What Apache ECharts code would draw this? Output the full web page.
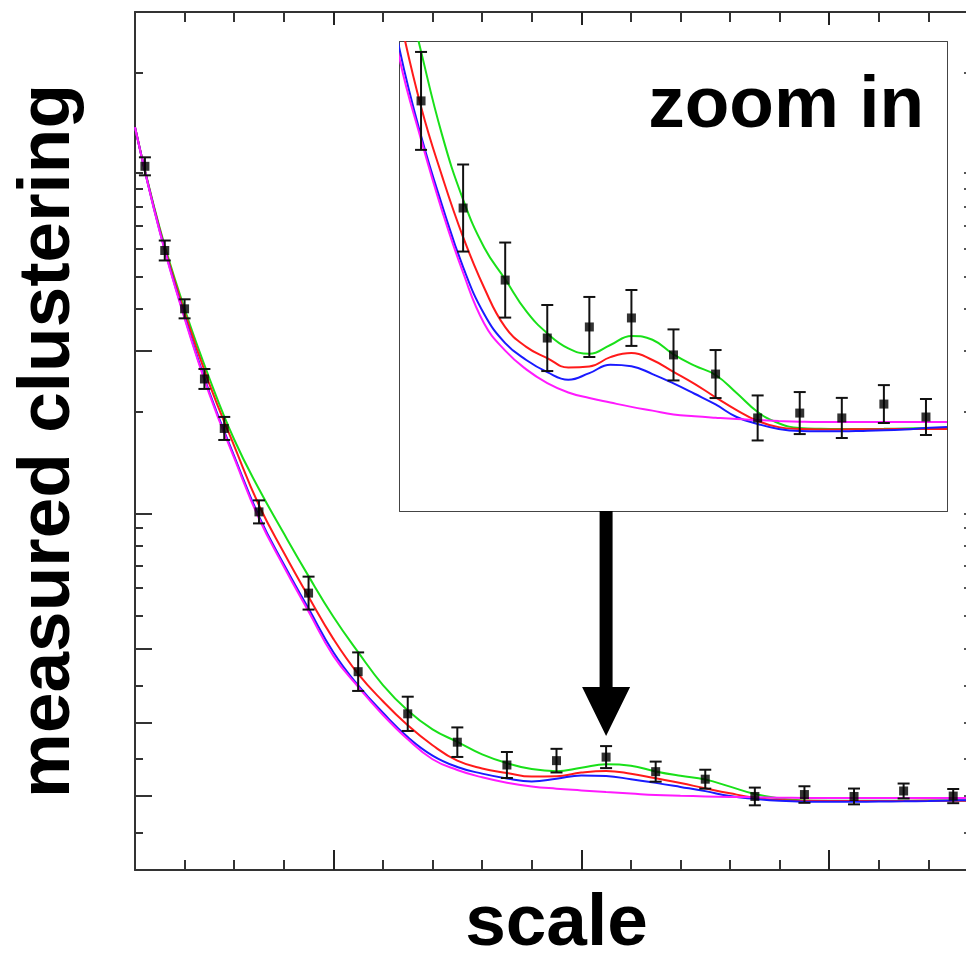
<!DOCTYPE html>
<html><head><meta charset="utf-8">
<script src="https://cdn.jsdelivr.net/npm/echarts@6/dist/echarts.min.js"></script>
<style>html,body{margin:0;padding:0;background:#fff}#c{width:966px;height:956px}</style>
</head><body><div id="c"></div>
<script>
// ---- data (scale units, clustering units) ----
const pointX   = [0.2,0.6,1.0,1.4,1.8,2.5,3.5,4.5,5.5,6.5,7.5,8.5,9.5,10.5,11.5,12.5,13.5,14.5,15.5,16.5];
const pointY   = [95.3,83.9,76.0,66.5,59.8,48.5,37.5,26.86,21.15,17.31,14.22,14.81,15.29,13.32,12.30,9.96,10.22,9.96,10.70,10.01];
const pointErr = [1.22,1.35,1.29,1.35,1.56,1.56,2.23,2.61,2.32,2.0,1.76,1.60,1.49,1.36,1.28,1.20,1.12,1.07,1.01,0.96];

// model curves sampled every 0.5 scale units from 0 to 17
const curveX   = [0,0.5,1,1.5,2,2.5,3,3.5,4,4.5,5,5.5,6,6.5,7,7.5,8,8.5,9,9.5,10,10.5,11,11.5,12,12.5,13,13.5,14,14.5,15,15.5,16,16.5,17];
const greenY   = [100.6,86.9,76.0,66.6,58.3,51.6,45.6,39.8,34.3,29.5,25.05,21.6,19.05,17.35,15.65,14.47,13.67,13.38,13.85,14.33,14.13,13.35,12.75,12.25,11.29,10.28,9.68,9.42,9.38,9.37,9.37,9.38,9.4,9.41,9.42];
const redY     = [100.6,86.7,75.5,65.8,57.45,49.4,43.0,37.0,31.3,26.55,22.85,19.6,16.9,14.8,13.75,13.15,12.65,12.7,13.2,13.42,13.05,12.42,11.78,11.06,10.38,9.8,9.47,9.37,9.35,9.35,9.36,9.36,9.37,9.37,9.37];
const blueY    = [100.6,86.5,74.9,64.7,56.05,47.9,41.4,35.4,29.5,25.0,21.3,18.0,15.5,13.95,13.05,12.4,12.0,12.35,12.8,12.72,12.3,11.8,11.25,10.68,10.01,9.64,9.37,9.26,9.25,9.25,9.27,9.3,9.35,9.42,9.48];
const magentaY = [100.6,86.4,74.7,64.45,55.8,47.6,41.1,35.0,29.0,24.8,21.0,17.7,15.0,13.55,12.55,11.82,11.32,11.02,10.78,10.55,10.35,10.15,10.05,9.97,9.9,9.85,9.8,9.76,9.74,9.74,9.74,9.74,9.74,9.74,9.74];

// tick positions
const mainXMinor = [1,2,3,5,6,7,8,10,11,12,13,15,16,17];
const mainXMajor = [4,9,14];
const mainYMinor = [5,15,25,34.4,38.2,41.2,43.9,46.3,62.1,76.0,80.4,84.1,87.2,89.8,92.2,94.4,108.0];
const mainYMajor = [10,20,30,48.3,70.3];
const zoomXMinor = [5,6,7,8,10,11,12,13,15,16];
const zoomXMajor = [9,14];
const zoomYMinor = [6,7,8,9,11,12,13,14,16,17,18,19,21,22,23,24,26,27,28,29];
const zoomYMajor = [10,15,20,25];

const FONT = '"Liberation Sans", Arial, Helvetica, sans-serif';
const chart = echarts.init(document.getElementById('c'), null, {renderer:'canvas'});

function axis(grid, pos, min, max, ticks, len, showLine, color, tickColor, extra) {
  return Object.assign({
    type:'value', gridIndex:grid, position:pos, min:min, max:max,
    axisLine:{show:showLine, onZero:false, lineStyle:{color:color, width:2}},
    axisTick:{show:true, inside:true, length:len, customValues:ticks, lineStyle:{color:tickColor, width:2}},
    axisLabel:{show:false}, splitLine:{show:false}
  }, extra || {});
}
const nameStyle = {fontSize:73, fontWeight:'bold', color:'#000', fontFamily:FONT};

const xAxes = [
  axis(0,'bottom',0,17,mainXMinor,10,true,'#333','#333',{name:'scale',nameLocation:'middle',nameGap:18,nameTextStyle:nameStyle}),
  axis(0,'bottom',0,17,mainXMajor,20,false,'#333','#222'),
  axis(0,'top',0,17,mainXMinor,10,true,'#333','#333'),
  axis(0,'top',0,17,mainXMajor,13,false,'#333','#222'),
  axis(1,'bottom',4,17,zoomXMinor,10,true,'#444','#555'),
  axis(1,'bottom',4,17,zoomXMajor,20,false,'#444','#444'),
  axis(1,'top',4,17,zoomXMinor,10,true,'#444','#555'),
  axis(1,'top',4,17,zoomXMajor,20,false,'#444','#444')
];
const yAxes = [
  axis(0,'left',0,116.2,mainYMinor,8,true,'#333','#333',{name:'measured clustering',nameLocation:'middle',nameRotate:90,nameGap:50,nameTextStyle:nameStyle}),
  axis(0,'left',0,116.2,mainYMajor,17,false,'#333','#333'),
  axis(0,'right',0,116.2,mainYMinor,14,false,'#555','#555'),
  axis(0,'right',0,116.2,mainYMajor,14,false,'#555','#555'),
  axis(1,'left',5,30,zoomYMinor,10,true,'#444','#777'),
  axis(1,'left',5,30,zoomYMajor,20,false,'#444','#777'),
  axis(1,'right',5,30,zoomYMinor,10,true,'#444','#777'),
  axis(1,'right',5,30,zoomYMajor,20,false,'#444','#777')
];

const curves = [
  {name:'green', color:'#19e019', ys:greenY},
  {name:'red', color:'#ff1a1a', ys:redY},
  {name:'blue', color:'#1a1aff', ys:blueY},
  {name:'magenta', color:'#ff1aff', ys:magentaY}
];
const pts = pointX.map((x,i)=>[x, pointY[i], pointErr[i]]);

function errBar(params, api) {
  const x = api.value(0), y = api.value(1), e = api.value(2);
  const t = api.coord([x, y + e]), b = api.coord([x, y - e]);
  const hw = 6;
  const st = {stroke:'#111', lineWidth:2};
  return {type:'group', children:[
    {type:'line', shape:{x1:t[0], y1:t[1], x2:b[0], y2:b[1]}, style:st},
    {type:'line', shape:{x1:t[0]-hw, y1:t[1], x2:t[0]+hw, y2:t[1]}, style:st},
    {type:'line', shape:{x1:b[0]-hw, y1:b[1], x2:b[0]+hw, y2:b[1]}, style:st}
  ]};
}

const series = [];
[[0,0],[4,4]].forEach(([xi, yi]) => {
  curves.forEach((c, k) => series.push({
    type:'line', name:c.name, xAxisIndex:xi, yAxisIndex:yi,
    data: curveX.map((x,i)=>[x, c.ys[i]]),
    smooth:0.45, symbol:'none', clip:true, z:3+k,
    lineStyle:{color:c.color, width:2}
  }));
  series.push({type:'custom', xAxisIndex:xi, yAxisIndex:yi, data:pts, renderItem:errBar, clip:true, z:10,
    encode:{x:0, y:1}});
  series.push({type:'scatter', xAxisIndex:xi, yAxisIndex:yi, data:pts.map(p=>[p[0],p[1]]),
    symbol:'rect', symbolSize:9, itemStyle:{color:'#000'}, z:11});
});

const zoomText = {type:'text', x:924, y:143, style:{text:'zoom in', font:'bold 73px '+FONT, fill:'#000', align:'right', verticalAlign:'bottom'}, z:20};
chart.setOption({
  animation:false,
  backgroundColor:'#fff',
  grid:[
    {left:135, top:12, width:843, height:858, outerBoundsMode:'none', containLabel:false},
    {left:400, top:42, width:547, height:469, show:true, backgroundColor:'#fff', borderWidth:0, z:1, outerBoundsMode:'none', containLabel:false}
  ],
  xAxis:xAxes, yAxis:yAxes, series:series,
  graphic:[zoomText]
});

// arrow pointing from the zoom panel to the bump
const tipRef = chart.convertToPixel({gridIndex:0}, [pointX[12], pointY[12] + pointErr[12]]);
const panelBottom = chart.convertToPixel({gridIndex:1}, [4, 5])[1];
const ax = tipRef[0], tip = tipRef[1] - 10, headTop = tip - 49;
chart.setOption({graphic:[
  zoomText,
  {type:'polygon', shape:{points:[[ax-6.5,panelBottom],[ax+6.5,panelBottom],[ax+6.5,headTop],[ax+24,headTop],[ax,tip],[ax-24,headTop],[ax-6.5,headTop]]},
   style:{fill:'#000'}, z:20}
]});
</script></body></html>
